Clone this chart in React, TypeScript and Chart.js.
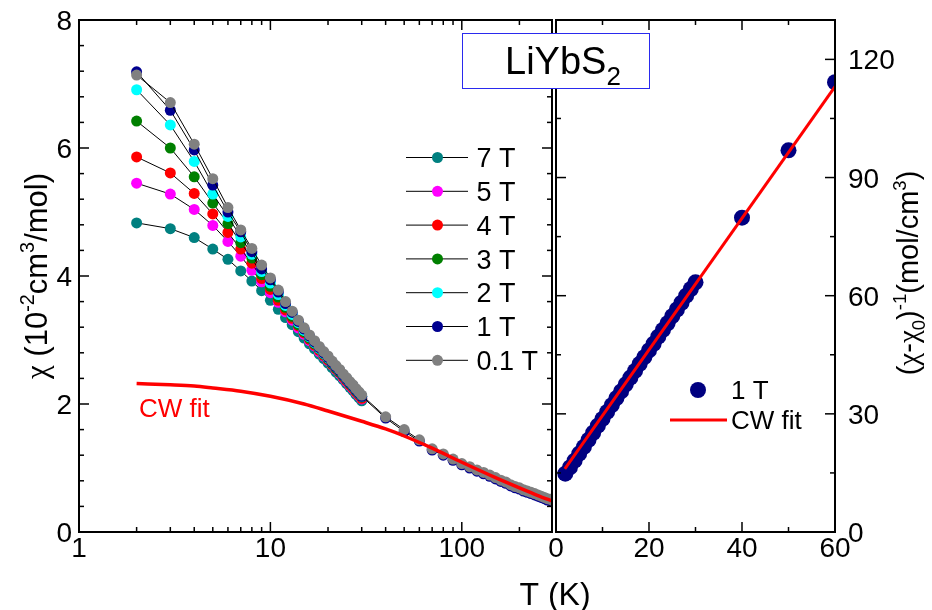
import React, { useEffect, useRef } from 'react';
import { Chart, registerables } from 'chart.js';

Chart.register(...registerables);

const FONT = '"Liberation Sans", Arial, Helvetica, sans-serif';
const GREEK_FONT = '"Liberation Serif", "DejaVu Serif", serif';

// ---------- data (left panel: chi vs T, log axis) ----------
const T_FIELD = [2, 3, 4, 5, 6, 7, 8, 9, 10, 11, 12, 13, 14, 15, 16, 17, 18, 19, 20, 21, 22, 23, 24, 25, 26, 27, 28, 29, 30];
const CHI_7T = [4.83, 4.74, 4.60, 4.42, 4.26, 4.08, 3.92, 3.77, 3.62, 3.48, 3.35, 3.24, 3.13, 3.03, 2.94, 2.86, 2.78, 2.71, 2.64, 2.57, 2.50, 2.44, 2.38, 2.32, 2.26, 2.21, 2.15, 2.10, 2.05];
const CHI_5T = [5.45, 5.28, 5.04, 4.79, 4.54, 4.31, 4.09, 3.91, 3.74, 3.59, 3.44, 3.31, 3.19, 3.09, 2.99, 2.91, 2.82, 2.75, 2.68, 2.61, 2.54, 2.48, 2.41, 2.35, 2.29, 2.24, 2.18, 2.13, 2.08];
const CHI_4T = [5.86, 5.61, 5.29, 4.97, 4.68, 4.42, 4.20, 3.96, 3.79, 3.62, 3.47, 3.34, 3.22, 3.11, 3.01, 2.92, 2.84, 2.76, 2.69, 2.62, 2.55, 2.49, 2.42, 2.36, 2.30, 2.25, 2.19, 2.14, 2.09];
const CHI_3T = [6.42, 6.00, 5.55, 5.14, 4.82, 4.52, 4.28, 4.02, 3.84, 3.67, 3.51, 3.37, 3.24, 3.13, 3.03, 2.94, 2.86, 2.78, 2.71, 2.63, 2.56, 2.50, 2.44, 2.38, 2.32, 2.27, 2.21, 2.16, 2.11];
const CHI_2T = [6.91, 6.36, 5.79, 5.28, 4.93, 4.61, 4.34, 4.07, 3.89, 3.71, 3.54, 3.40, 3.27, 3.15, 3.05, 2.96, 2.87, 2.79, 2.72, 2.65, 2.58, 2.52, 2.45, 2.39, 2.33, 2.28, 2.22, 2.17, 2.12];
const CHI_1T = [7.19, 6.59, 5.97, 5.42, 5.00, 4.69, 4.38, 4.11, 3.94, 3.75, 3.57, 3.43, 3.29, 3.17, 3.06, 2.97, 2.88, 2.80, 2.73, 2.65, 2.58, 2.52, 2.45, 2.39, 2.33, 2.28, 2.22, 2.17, 2.12];
const CHI_01T = [7.14, 6.71, 6.06, 5.52, 5.07, 4.72, 4.43, 4.17, 3.97, 3.78, 3.60, 3.45, 3.31, 3.19, 3.08, 2.99, 2.90, 2.82, 2.75, 2.67, 2.60, 2.54, 2.47, 2.41, 2.35, 2.30, 2.24, 2.19, 2.14];

const T_HIGH = [40, 50, 60, 70, 80, 90, 100, 110, 120, 130, 140, 150, 160, 170, 180, 190, 200, 210, 220, 230, 240, 250, 260, 270, 280, 290, 300];
const CHI_1T_HIGH = [1.78, 1.57, 1.42, 1.28, 1.20, 1.12, 1.05, 1.00, 0.95, 0.91, 0.87, 0.83, 0.79, 0.76, 0.72, 0.69, 0.67, 0.64, 0.62, 0.60, 0.58, 0.56, 0.54, 0.52, 0.50, 0.49, 0.47];
const CHI_01T_HIGH = [1.80, 1.60, 1.44, 1.30, 1.22, 1.14, 1.07, 1.02, 0.97, 0.93, 0.89, 0.85, 0.81, 0.78, 0.74, 0.71, 0.69, 0.66, 0.64, 0.62, 0.60, 0.58, 0.56, 0.54, 0.52, 0.51, 0.49];

const FIT_T = [2, 3, 4, 5, 7, 10, 15, 20, 30, 40, 50, 70, 100, 150, 200, 250, 300];
const FIT_CHI = [2.32, 2.30, 2.28, 2.25, 2.20, 2.12, 2.00, 1.89, 1.73, 1.61, 1.50, 1.31, 1.09, 0.85, 0.69, 0.57, 0.48];

const FIELD_LABELS = ['7 T', '5 T', '4 T', '3 T', '2 T', '1 T', '0.1 T'];
const FIELD_COLORS = ['#008080', '#ff00ff', '#ff0000', '#008000', '#00ffff', '#000090', '#808080'];

// ---------- data (right panel: inverse susceptibility, linear axis) ----------
const T_INV = [2, 3, 4, 5, 6, 7, 8, 9, 10, 11, 12, 13, 14, 15, 16, 17, 18, 19, 20, 21, 22, 23, 24, 25, 26, 27, 28, 29, 30, 40, 50, 60];
const INV_1T = [14.8, 16.4, 18.1, 19.9, 21.6, 23.4, 25.2, 27.0, 28.7, 30.5, 32.2, 34.0, 35.7, 37.5, 39.2, 40.9, 42.7, 44.4, 46.1, 47.8, 49.6, 51.3, 53.0, 54.8, 56.5, 58.2, 60.0, 61.7, 63.4, 79.8, 96.9, 114.2];
const FIT_INV_T = [1.9, 60];
const FIT_INV = [16.0, 113.1];

// ---------- ticks ----------
const X_LOG_TICKS = [1, 2, 3, 4, 5, 6, 7, 8, 9, 10, 20, 30, 40, 50, 60, 70, 80, 90, 100, 200];
const X_LOG_MAJOR = [1, 10, 100];
const X_LIN_TICKS = [0, 10, 20, 30, 40, 50, 60];
const X_LIN_MAJOR = [0, 20, 40, 60];
const Y_LEFT_TICKS = [0, 0.4, 0.8, 1.2, 1.6, 2, 2.4, 2.8, 3.2, 3.6, 4, 4.4, 4.8, 5.2, 5.6, 6, 6.4, 6.8, 7.2, 7.6, 8];
const Y_LEFT_MAJOR = [0, 2, 4, 6, 8];
const Y_RIGHT_TICKS = [0, 15, 30, 45, 60, 75, 90, 105, 120];
const Y_RIGHT_MAJOR = [0, 30, 60, 90, 120];

type Seg = { t: string; k?: 'sup' | 'sub'; g?: boolean };

function pts(xs: number[], ys: number[]) {
  return xs.map((x, i) => ({ x, y: ys[i] }));
}

function font(size: number, greek = false) {
  return `${size}px ${greek ? GREEK_FONT : FONT}`;
}

function drawRich(ctx: CanvasRenderingContext2D, segs: Seg[], x: number, y: number, size: number, color: string, rot: number) {
  ctx.save();
  ctx.translate(x, y);
  ctx.rotate(rot);
  const small = size * 0.64;
  let w = 0;
  for (const s of segs) {
    ctx.font = font(s.k ? small : size, s.g);
    w += ctx.measureText(s.t).width;
  }
  let cx = -w / 2;
  ctx.fillStyle = color;
  ctx.textBaseline = 'alphabetic';
  ctx.textAlign = 'left';
  for (const s of segs) {
    const fs = s.k ? small : size;
    ctx.font = font(fs, s.g);
    const dy = s.k === 'sup' ? -size * 0.42 : s.k === 'sub' ? size * 0.24 : 0;
    ctx.fillText(s.t, cx, dy);
    cx += ctx.measureText(s.t).width;
  }
  ctx.restore();
}

const decorPlugin = {
  id: 'decor',
  afterDraw(chart: any) {
    const ctx: CanvasRenderingContext2D = chart.ctx;
    const { xL, xR, yL, yR } = chart.scales;
    const top = yL.top;
    const bot = yL.bottom;
    const lx0 = xL.left;
    const lx1 = xL.right;
    const rx0 = xR.getPixelForValue(0);
    const rx1 = xR.right;

    ctx.save();
    ctx.strokeStyle = '#000';
    ctx.lineWidth = 2;
    ctx.strokeRect(lx0, top, lx1 - lx0, bot - top);
    ctx.strokeRect(rx0, top, rx1 - rx0, bot - top);

    const line = (a: number, b: number, c: number, d: number) => {
      ctx.beginPath();
      ctx.moveTo(a, b);
      ctx.lineTo(c, d);
      ctx.stroke();
    };
    ctx.lineWidth = 1.5;
    for (const t of xL.ticks) {
      const x = xL.getPixelForValue(t.value);
      const len = X_LOG_MAJOR.includes(t.value) ? 10 : 5;
      line(x, bot, x, bot - len);
      line(x, top, x, top + len);
    }
    for (const t of xR.ticks) {
      const x = xR.getPixelForValue(t.value);
      const len = X_LIN_MAJOR.includes(t.value) ? 10 : 5;
      line(x, bot, x, bot - len);
      line(x, top, x, top + len);
    }
    for (const t of yL.ticks) {
      const y = yL.getPixelForValue(t.value);
      const len = Y_LEFT_MAJOR.includes(t.value) ? 10 : 5;
      line(lx0, y, lx0 + len, y);
      line(lx1, y, lx1 - len, y);
    }
    for (const t of yR.ticks) {
      const y = yR.getPixelForValue(t.value);
      const len = Y_RIGHT_MAJOR.includes(t.value) ? 10 : 5;
      line(rx0, y, rx0 + len, y);
      line(rx1, y, rx1 - len, y);
    }

    // tick labels
    ctx.fillStyle = '#000';
    ctx.font = font(28);
    ctx.textBaseline = 'alphabetic';
    ctx.textAlign = 'center';
    for (const v of X_LOG_MAJOR) ctx.fillText(String(v), xL.getPixelForValue(v), bot + 25);
    for (const v of X_LIN_MAJOR) ctx.fillText(String(v), xR.getPixelForValue(v), bot + 25);
    ctx.textAlign = 'right';
    for (const v of Y_LEFT_MAJOR) ctx.fillText(String(v), lx0 - 7, yL.getPixelForValue(v) + 10);
    ctx.textAlign = 'left';
    for (const v of Y_RIGHT_MAJOR) ctx.fillText(String(v), rx1 + 13, yR.getPixelForValue(v) + 10);

    // x title
    ctx.textAlign = 'center';
    ctx.font = font(32);
    ctx.fillText('T (K)', (lx1 + rx0) / 2 + 1, 605);

    // y titles
    drawRich(ctx, [{ t: 'χ', g: true }, { t: ' (10' }, { t: '-2', k: 'sup' }, { t: 'cm' }, { t: '3', k: 'sup' }, { t: '/mol)' }], 47, 276, 31, '#000', -Math.PI / 2);
    drawRich(ctx, [{ t: '(' }, { t: 'χ', g: true }, { t: '-' }, { t: 'χ', g: true }, { t: '0', k: 'sub' }, { t: ')' }, { t: '-1', k: 'sup' }, { t: '(mol/cm' }, { t: '3', k: 'sup' }, { t: ')' }], 918, 273, 29, '#000', -Math.PI / 2);

    // left legend
    ctx.textAlign = 'left';
    ctx.font = font(27);
    FIELD_LABELS.forEach((lab, i) => {
      const cy = 157.5 + i * 33.8;
      ctx.strokeStyle = '#000';
      ctx.lineWidth = 1;
      line(406, cy, 468, cy);
      ctx.beginPath();
      ctx.arc(437.5, cy, 5.5, 0, Math.PI * 2);
      ctx.fillStyle = FIELD_COLORS[i];
      ctx.fill();
      ctx.fillStyle = '#000';
      ctx.fillText(lab, 476.5, cy + 9.7);
    });

    // right legend
    ctx.beginPath();
    ctx.arc(698, 390, 8, 0, Math.PI * 2);
    ctx.fillStyle = '#000080';
    ctx.fill();
    ctx.fillStyle = '#000';
    ctx.font = font(26);
    ctx.fillText('1 T', 731, 399);
    ctx.strokeStyle = '#ff0000';
    ctx.lineWidth = 3;
    line(670, 420, 727, 420);
    ctx.fillText('CW fit', 731, 429);

    // red label in left panel
    ctx.fillStyle = '#ff0000';
    ctx.fillText('CW fit', 139, 416.5);

    // compound box
    ctx.fillStyle = '#fff';
    ctx.fillRect(462.5, 33.5, 187, 55);
    ctx.strokeStyle = '#2a2aee';
    ctx.lineWidth = 1;
    ctx.strokeRect(462.5, 33.5, 187, 55);
    ctx.fillStyle = '#000';
    ctx.font = font(38);
    ctx.fillText('LiYbS', 505, 73.5);
    const w = ctx.measureText('LiYbS').width;
    ctx.font = font(26);
    ctx.fillText('2', 505 + w, 85);
    ctx.restore();
  },
};

export default function App() {
  const ref = useRef<HTMLCanvasElement>(null);

  useEffect(() => {
    const canvas = ref.current;
    if (!canvas) return;
    const chiByField = [CHI_7T, CHI_5T, CHI_4T, CHI_3T, CHI_2T, CHI_1T, CHI_01T];
    const fieldSets = FIELD_LABELS.map((label, i) => {
      let xs = T_FIELD;
      let ys = chiByField[i];
      if (label === '1 T') {
        xs = T_FIELD.concat(T_HIGH);
        ys = CHI_1T.concat(CHI_1T_HIGH);
      } else if (label === '0.1 T') {
        xs = T_FIELD.concat(T_HIGH);
        ys = CHI_01T.concat(CHI_01T_HIGH);
      }
      return {
        label,
        data: pts(xs, ys),
        xAxisID: 'xL',
        yAxisID: 'yL',
        borderColor: '#000',
        borderWidth: 1,
        pointRadius: 5.5,
        pointBorderWidth: 0,
        pointBackgroundColor: FIELD_COLORS[i],
        pointBorderColor: FIELD_COLORS[i],
        fill: false,
        tension: 0,
      };
    });

    const datasets: any[] = [
      {
        label: 'CW fit',
        data: pts(FIT_T, FIT_CHI),
        xAxisID: 'xL',
        yAxisID: 'yL',
        borderColor: '#ff0000',
        borderWidth: 3.5,
        pointRadius: 0,
        cubicInterpolationMode: 'monotone',
        fill: false,
      },
      {
        label: 'CW fit inv',
        data: pts(FIT_INV_T, FIT_INV),
        xAxisID: 'xR',
        yAxisID: 'yR',
        borderColor: '#ff0000',
        borderWidth: 3,
        pointRadius: 0,
        fill: false,
      },
      ...fieldSets.slice().reverse(),
      {
        label: '1 T inv',
        data: pts(T_INV, INV_1T),
        xAxisID: 'xR',
        yAxisID: 'yR',
        showLine: false,
        pointRadius: 8,
        pointBorderWidth: 0,
        pointBackgroundColor: '#000080',
        pointBorderColor: '#000080',
      },
    ];

    const hidden = {
      grid: { display: false },
      border: { display: false },
      ticks: { display: false },
    };

    const chart = new Chart(canvas, {
      type: 'line',
      data: { datasets },
      options: {
        responsive: false,
        animation: false,
        events: [],
        layout: { padding: { top: 20, left: 0, right: 0, bottom: 0 } },
        plugins: {
          legend: { display: false },
          tooltip: { enabled: false },
          title: { display: false },
        },
        scales: {
          xL: {
            type: 'logarithmic',
            position: 'bottom',
            stack: 'x',
            stackWeight: 473,
            min: 1,
            max: 296,
            ...hidden,
            afterBuildTicks: (s: any) => {
              s.ticks = X_LOG_TICKS.map((v) => ({ value: v }));
            },
            afterFit: (s: any) => {
              s.height = 78;
            },
          },
          xR: {
            type: 'linear',
            position: 'bottom',
            stack: 'x',
            stackWeight: 283,
            min: -0.86,
            max: 60,
            ...hidden,
            afterBuildTicks: (s: any) => {
              s.ticks = X_LIN_TICKS.map((v) => ({ value: v }));
            },
            afterFit: (s: any) => {
              s.height = 78;
            },
          },
          yL: {
            type: 'linear',
            position: 'left',
            min: 0,
            max: 8,
            ...hidden,
            afterBuildTicks: (s: any) => {
              s.ticks = Y_LEFT_TICKS.map((v) => ({ value: v }));
            },
            afterFit: (s: any) => {
              s.width = 79;
            },
          },
          yR: {
            type: 'linear',
            position: 'right',
            min: 0,
            max: 130,
            ...hidden,
            afterBuildTicks: (s: any) => {
              s.ticks = Y_RIGHT_TICKS.map((v) => ({ value: v }));
            },
            afterFit: (s: any) => {
              s.width = 97;
            },
          },
        },
      } as any,
      plugins: [decorPlugin],
    });
    return () => chart.destroy();
  }, []);

  return (
    <div style={{ position: 'absolute', left: 0, top: 0, width: 932, height: 610, background: '#fff' }}>
      <canvas ref={ref} width={932} height={610} style={{ display: 'block' }} />
    </div>
  );
}
